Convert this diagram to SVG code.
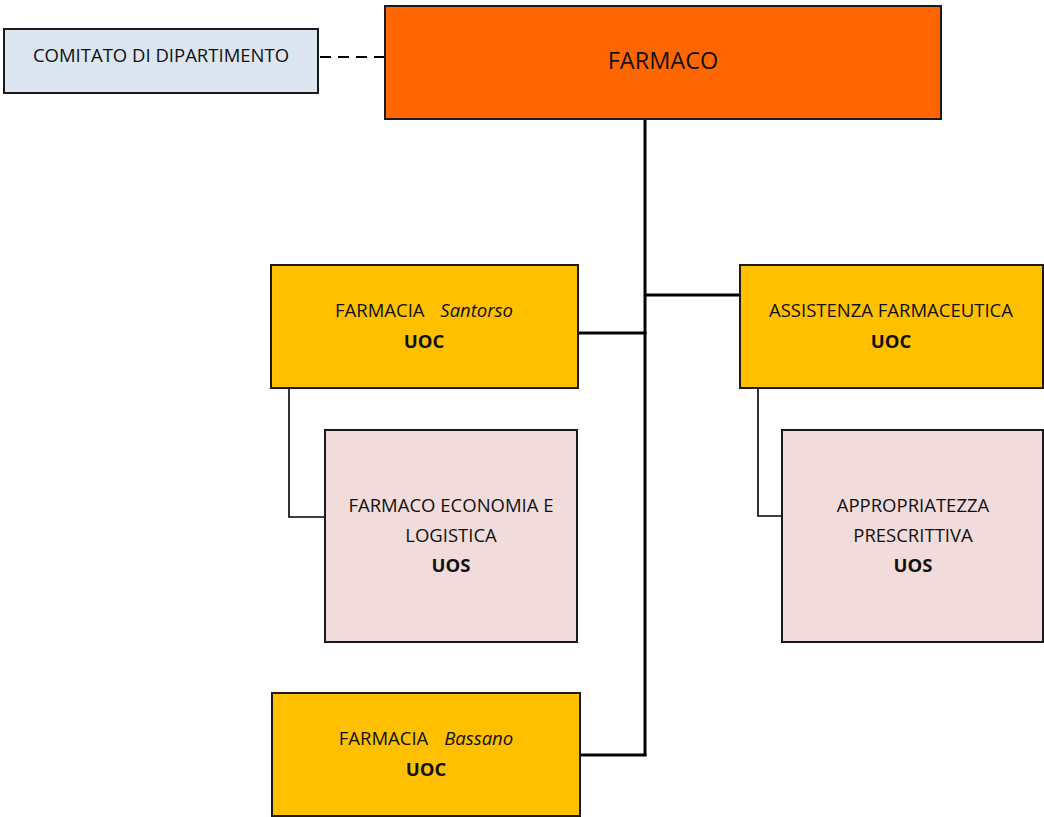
<svg xmlns="http://www.w3.org/2000/svg" width="1044" height="817" viewBox="0 0 1044 817">
  <style>
    .box { stroke: #1a1a1a; stroke-width: 2; }
    .dept { fill: #ff6600; }
    .comm { fill: #dce6f1; }
    .uoc { fill: #ffc000; }
    .uos { fill: #f2dcdb; }
    text { font-family: "Open Sans", "Liberation Sans", sans-serif; font-size: 18.5px; fill: #111; text-anchor: middle; }
    .b { font-weight: bold; }
    .i { font-style: italic; }
    .big { font-size: 23.5px; }
    .link { fill: none; stroke: #000; }
    .main { stroke-width: 3; }
    .thin { stroke-width: 1.6; }
    .dash { stroke-width: 1.8; stroke-dasharray: 11 7; }
  </style>

  <!-- connectors -->
  <g id="connectors">
    <line class="link dash" x1="320" y1="57" x2="385" y2="57"/>
    <line class="link main" x1="645" y1="119" x2="645" y2="756"/>
    <line class="link main" x1="645" y1="295" x2="740" y2="295"/>
    <line class="link main" x1="578" y1="333" x2="646.5" y2="333"/>
    <line class="link main" x1="580" y1="755" x2="646.5" y2="755"/>
    <polyline class="link thin" points="289,388 289,517 324,517"/>
    <polyline class="link thin" points="758,388 758,516 782,516"/>
  </g>

  <!-- committee -->
  <g id="comitato">
    <rect class="box comm" x="4" y="29" width="314" height="64"/>
    <text x="161" y="62">COMITATO DI DIPARTIMENTO</text>
  </g>

  <!-- department head -->
  <g id="farmaco">
    <rect class="box dept" x="385" y="6" width="556" height="113"/>
    <text class="big" x="663" y="69">FARMACO</text>
  </g>

  <g id="farmacia-santorso">
    <rect class="box uoc" x="271" y="265" width="307" height="123"/>
    <text x="424" y="317">FARMACIA <tspan class="i" dx="11">Santorso</tspan></text>
    <text class="b" x="424" y="348">UOC</text>
  </g>

  <g id="assistenza-farmaceutica">
    <rect class="box uoc" x="740" y="265" width="303" height="123"/>
    <text x="891" y="317">ASSISTENZA FARMACEUTICA</text>
    <text class="b" x="891" y="348">UOC</text>
  </g>

  <g id="farmaco-economia">
    <rect class="box uos" x="325" y="430" width="252" height="212"/>
    <text x="451" y="512">FARMACO ECONOMIA E</text>
    <text x="451" y="542">LOGISTICA</text>
    <text class="b" x="451" y="572">UOS</text>
  </g>

  <g id="appropriatezza">
    <rect class="box uos" x="782" y="430" width="261" height="212"/>
    <text x="913" y="512">APPROPRIATEZZA</text>
    <text x="913" y="542">PRESCRITTIVA</text>
    <text class="b" x="913" y="572">UOS</text>
  </g>

  <g id="farmacia-bassano">
    <rect class="box uoc" x="272" y="693" width="308" height="123"/>
    <text x="426" y="745">FARMACIA <tspan class="i" dx="11">Bassano</tspan></text>
    <text class="b" x="426" y="776">UOC</text>
  </g>
</svg>
